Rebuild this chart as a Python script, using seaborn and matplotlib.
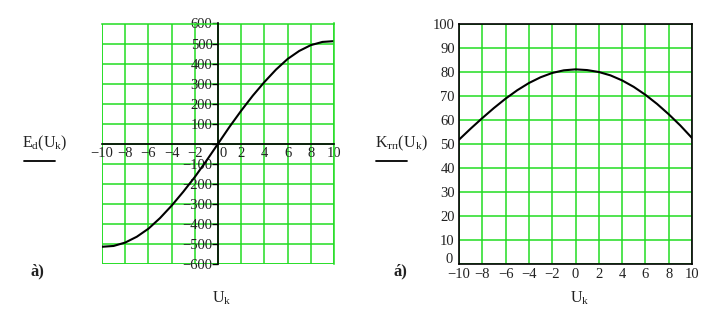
import matplotlib
matplotlib.use("Agg")
import matplotlib.pyplot as plt
import matplotlib.transforms as mtransforms
import seaborn as sns
import pandas as pd

uk = [-10, -9, -8, -7, -6, -5, -4, -3, -2, -1, 0, 1, 2, 3, 4, 5, 6, 7, 8, 9, 10]
ed = [-514, -510, -493, -464, -424, -371, -309, -240, -166, -85, 0,
      85, 165, 240, 308, 370, 423, 463, 492, 508, 512]
ktp = [51.8, 56.4, 60.8, 65.0, 68.9, 72.4, 75.4, 77.8, 79.6, 80.7, 81.1,
       80.8, 80.0, 78.6, 76.5, 73.8, 70.5, 66.7, 62.4, 57.7, 52.5]

x_ticks = list(range(-10, 11, 2))
ed_ticks = list(range(-600, 601, 100))
k_ticks = list(range(0, 101, 10))

sns.set_theme(style="white")
plt.rcParams['font.family'] = ['Liberation Serif', 'DejaVu Serif']
plt.rcParams['mathtext.fontset'] = 'custom'
plt.rcParams['mathtext.rm'] = 'Liberation Serif'
plt.rcParams['mathtext.it'] = 'Liberation Serif'
plt.rcParams['axes.unicode_minus'] = True

GREEN = "#22dd22"
FS = 10.5
TXT = "#222222"

def fmt(t):
    return str(t).replace('-', '\u2212')

df = pd.DataFrame({"uk": uk, "ed": ed, "ktp": ktp})

fig = plt.figure(figsize=(7.24, 3.12), dpi=100)
W, H = 724, 312
def rect(x0, y0, x1, y1):
    return [x0 / W, 1 - y1 / H, (x1 - x0) / W, (y1 - y0) / H]

ax1 = fig.add_axes(rect(102, 23.5, 334, 264))
ax2 = fig.add_axes(rect(459, 24, 692, 264))

# Left chart
sns.lineplot(data=df, x="uk", y="ed", ax=ax1, color="black", lw=1.5)
ax1.set_xlim(-10, 10)
ax1.set_ylim(-600, 600)
ax1.set_xticks(x_ticks)
ax1.set_yticks(ed_ticks)
ax1.grid(True, color=GREEN, lw=1.1)
ax1.set_axisbelow(True)
ax1.spines['left'].set_position(('data', 0))
ax1.spines['bottom'].set_position(('data', 0))
for s in ['left', 'bottom']:
    ax1.spines[s].set_color('black')
    ax1.spines[s].set_linewidth(1.2)
    ax1.spines[s].set_zorder(3)
for s in ['top', 'right']:
    ax1.spines[s].set_color(GREEN)
    ax1.spines[s].set_linewidth(1.1)
ax1.tick_params(axis='y', which='both', left=True, direction='out', length=4,
                width=1, color='black', labelsize=FS, pad=0, labelcolor=TXT)
ax1.tick_params(axis='x', which='both', bottom=True, direction='out', length=0,
                labelsize=FS, pad=2, labelcolor=TXT)
ax1.set_yticklabels(['' if t == 0 else fmt(t) for t in ed_ticks])
ax1.set_xticklabels([fmt(t) for t in x_ticks])
for lab, t in zip(ax1.get_xticklabels(), x_ticks):
    if t == 0:
        lab.set_transform(lab.get_transform() +
                          mtransforms.ScaledTranslation(5 / 100, 0, fig.dpi_scale_trans))
ax1.axvline(-10, color=GREEN, lw=1.1, zorder=0.5)
ax1.axhline(-600, color=GREEN, lw=1.1, zorder=0.5)
ax1.set_xlabel("")
ax1.set_ylabel("")

# Right chart
sns.lineplot(data=df, x="uk", y="ktp", ax=ax2, color="black", lw=1.5)
ax2.set_xlim(-10, 10)
ax2.set_ylim(0, 100)
ax2.set_xticks(x_ticks)
ax2.set_yticks(k_ticks)
ax2.grid(True, color=GREEN, lw=1.1)
ax2.set_axisbelow(True)
for s in ax2.spines.values():
    s.set_color('black')
    s.set_linewidth(1.2)
    s.set_zorder(3)
ax2.tick_params(axis='both', which='both', length=0, labelsize=FS, pad=3, labelcolor=TXT)
ax2.set_xticklabels([fmt(t) for t in x_ticks])
for lab, t in zip(ax2.get_yticklabels(), k_ticks):
    if t == 0:
        lab.set_transform(lab.get_transform() +
                          mtransforms.ScaledTranslation(-2 / 100, 6 / 100, fig.dpi_scale_trans))
ax2.set_xlabel("")
ax2.set_ylabel("")

# Labels
fig.text(45 / W, 1 - 143 / H, r'$\mathregular{E_d(U_k)}$', ha='center', va='center',
         fontsize=11.5, color=TXT)
fig.add_artist(plt.Line2D([24 / W, 55 / W], [1 - 161 / H, 1 - 161 / H], color='black', lw=1.3))
fig.text(37 / W, 1 - 271 / H, 'à)', ha='center', va='center', fontsize=12,
         fontweight='bold', color=TXT)
fig.text(222 / W, 1 - 298 / H, r'$\mathregular{U_k}$', ha='center', va='center',
         fontsize=11.5, color=TXT)

fig.text(401 / W, 1 - 143 / H, r'$\mathregular{K_{тп}(U_k)}$', ha='center', va='center',
         fontsize=11.5, color=TXT)
fig.add_artist(plt.Line2D([376 / W, 407 / W], [1 - 161 / H, 1 - 161 / H], color='black', lw=1.3))
fig.text(400 / W, 1 - 271 / H, 'á)', ha='center', va='center', fontsize=12,
         fontweight='bold', color=TXT)
fig.text(580 / W, 1 - 298 / H, r'$\mathregular{U_k}$', ha='center', va='center',
         fontsize=11.5, color=TXT)

fig.savefig("out.png", dpi=100)
